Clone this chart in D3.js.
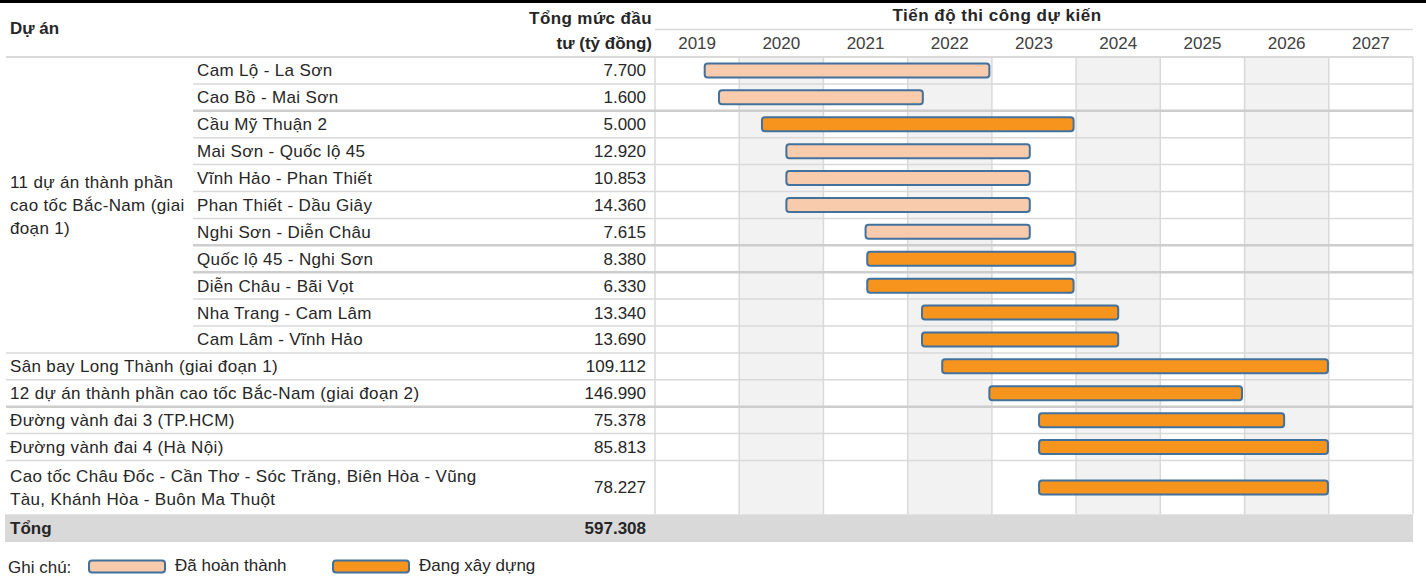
<!DOCTYPE html>
<html lang="vi">
<head>
<meta charset="utf-8">
<script src="https://cdn.jsdelivr.net/npm/d3@7"></script>
<style>
  html, body { margin: 0; padding: 0; background: #fff; }
  svg { display: block; font-family: "Liberation Sans", Arial, sans-serif; }
</style>
</head>
<body>
<svg id="chart" width="1426" height="580"></svg>
<script>
// ---- Data -------------------------------------------------------------
const groupLabel = ["11 dự án thành phần", "cao tốc Bắc-Nam (giai", "đoạn 1)"];

const projects = [
  "Cam Lộ - La Sơn",
  "Cao Bồ - Mai Sơn",
  "Cầu Mỹ Thuận 2",
  "Mai Sơn - Quốc lộ 45",
  "Vĩnh Hảo - Phan Thiết",
  "Phan Thiết - Dầu Giây",
  "Nghi Sơn - Diễn Châu",
  "Quốc lộ 45 - Nghi Sơn",
  "Diễn Châu - Bãi Vọt",
  "Nha Trang - Cam Lâm",
  "Cam Lâm - Vĩnh Hảo",
  "Sân bay Long Thành (giai đoạn 1)",
  "12 dự án thành phần cao tốc Bắc-Nam (giai đoạn 2)",
  "Đường vành đai 3 (TP.HCM)",
  "Đường vành đai 4 (Hà Nội)",
  "Cao tốc Châu Đốc - Cần Thơ - Sóc Trăng, Biên Hòa - Vũng\nTàu, Khánh Hòa - Buôn Ma Thuột"
];

// true = belongs to the 11-project group (phase 1)
const inGroup = [true, true, true, true, true, true, true, true, true, true, true,
                 false, false, false, false, false];

// Total investment, billion VND
const investment = [7700, 1600, 5000, 12920, 10853, 14360, 7615, 8380, 6330, 13340, 13690,
                    109112, 146990, 75378, 85813, 78227];

// Construction schedule, in decimal years
const startYear = [2019.59, 2019.76, 2020.27, 2020.56, 2020.56, 2020.56, 2021.50, 2021.52, 2021.52,
                   2022.17, 2022.17, 2022.41, 2022.97, 2023.56, 2023.56, 2023.56];
const endYear   = [2022.97, 2022.18, 2023.97, 2023.45, 2023.45, 2023.45, 2023.45, 2023.99, 2023.97,
                   2024.50, 2024.50, 2026.99, 2025.97, 2026.47, 2026.99, 2026.99];

// "done" = completed, "building" = under construction
const status = ["done", "done", "building", "done", "done", "done", "done", "building", "building",
                "building", "building", "building", "building", "building", "building", "building"];

const years = [2019, 2020, 2021, 2022, 2023, 2024, 2025, 2026, 2027];

const legendLabels = { done: "Đã hoàn thành", building: "Đang xây dựng" };

// ---- Layout -----------------------------------------------------------
const W = 1426, H = 580;
const tableLeft = 6, tableRight = 1413;
const ganttLeft = 655;
const headerBottom = 57, rowUnit = 26.9;
const FONT = 17;
const textColor = "#262626";
const gridColor = "#D9D9D9";
const fills = { done: "#F8CBAD", building: "#F7941D" };
const barStroke = "#41719C";
const heavierRules = new Set([1, 6, 7, 12]);

const fmt = d3.formatLocale({ decimal: ",", thousands: ".", grouping: [3], currency: ["", ""] }).format(",d");

const rows = projects.map((name, i) => ({
  name, lines: name.split("\n"), group: inGroup[i], value: investment[i],
  start: startYear[i], end: endYear[i], status: status[i]
}));
let acc = 0;
rows.forEach(r => { r.u0 = acc; r.span = r.lines.length; acc += r.span; r.u1 = acc; });
const totalUnits = acc + 1;

const y = d3.scaleLinear().domain([0, totalUnits]).range([headerBottom, headerBottom + totalUnits * rowUnit]);
const x = d3.scaleLinear().domain([years[0], years[years.length - 1] + 1]).range([ganttLeft, tableRight]);
const bodyBottom = y(acc);

const svg = d3.select("#chart");

// top border strip
svg.append("rect").attr("x", 0).attr("y", 0).attr("width", W).attr("height", 3).attr("fill", "#000");

// shaded year columns
svg.append("g").selectAll("rect").data(years.filter((d, i) => i % 2 === 1)).join("rect")
  .attr("x", d => x(d)).attr("width", d => x(d + 1) - x(d))
  .attr("y", headerBottom).attr("height", bodyBottom - headerBottom)
  .attr("fill", "#F2F2F2");

// vertical grid lines
svg.append("g").selectAll("line").data(d3.range(years[0], years[years.length - 1] + 2)).join("line")
  .attr("x1", d => x(d)).attr("x2", d => x(d))
  .attr("y1", headerBottom).attr("y2", bodyBottom)
  .attr("stroke", gridColor).attr("stroke-width", 1.5);

// header rules
svg.append("line").attr("x1", ganttLeft).attr("x2", tableRight).attr("y1", 29.5).attr("y2", 29.5)
  .attr("stroke", gridColor).attr("stroke-width", 1.5);
svg.append("line").attr("x1", tableLeft).attr("x2", tableRight).attr("y1", headerBottom).attr("y2", headerBottom)
  .attr("stroke", gridColor).attr("stroke-width", 2);

// row rules
svg.append("g").selectAll("line").data(rows.slice(0, -1)).join("line")
  .attr("x1", (d, i) => rows[i + 1].group ? 193 : tableLeft)
  .attr("x2", tableRight)
  .attr("y1", d => y(d.u1)).attr("y2", d => y(d.u1))
  .attr("stroke", (d, i) => heavierRules.has(i) ? "#CDCDCD" : gridColor)
  .attr("stroke-width", (d, i) => heavierRules.has(i) ? 2.5 : 1.5);

// total band
svg.append("rect").attr("x", 5).attr("y", bodyBottom).attr("width", tableRight - 5)
  .attr("height", rowUnit).attr("fill", "#D9D9D9");
svg.append("line").attr("x1", 5).attr("x2", tableRight).attr("y1", bodyBottom + rowUnit).attr("y2", bodyBottom + rowUnit)
  .attr("stroke", "#C8C8C8").attr("stroke-width", 1);

// header text
const header = svg.append("g").attr("fill", textColor).attr("font-size", FONT).attr("font-weight", "bold");
header.append("text").attr("x", 10).attr("y", 28).attr("dy", "0.35em").text("Dự án");
header.append("text").attr("x", 652).attr("y", 18).attr("dy", "0.35em").attr("text-anchor", "end")
  .attr("letter-spacing", 0.4).text("Tổng mức đầu");
header.append("text").attr("x", 652).attr("y", 43).attr("dy", "0.35em").attr("text-anchor", "end").text("tư (tỷ đồng)");
header.append("text").attr("x", 997).attr("y", 15).attr("dy", "0.35em").attr("text-anchor", "middle")
  .attr("letter-spacing", 0.5).text("Tiến độ thi công dự kiến");

// year axis labels
svg.append("g").selectAll("text").data(years).join("text")
  .attr("x", d => (x(d) + x(d + 1)) / 2).attr("y", 43).attr("dy", "0.35em")
  .attr("text-anchor", "middle").attr("font-size", FONT).attr("fill", "#404040")
  .text(d => d);

// group label
const groupRows = rows.filter(r => r.group);
const gMid = (y(groupRows[0].u0) + y(groupRows[groupRows.length - 1].u1)) / 2;
svg.append("g").attr("letter-spacing", 0.35).selectAll("text").data(groupLabel).join("text")
  .attr("x", 10).attr("y", (d, i) => gMid + (i - (groupLabel.length - 1) / 2) * 23).attr("dy", "0.35em")
  .attr("font-size", FONT).attr("fill", textColor).text(d => d);

// project names
const nameG = svg.append("g").attr("font-size", FONT).attr("fill", textColor).attr("letter-spacing", 0.35);
rows.forEach(r => {
  const mid = (y(r.u0) + y(r.u1)) / 2;
  r.lines.forEach((ln, k) => {
    nameG.append("text")
      .attr("x", r.group ? 197 : 10)
      .attr("y", mid + (k - (r.lines.length - 1) / 2) * 23).attr("dy", "0.35em")
      .text(ln);
  });
});

// investment values
svg.append("g").selectAll("text").data(rows).join("text")
  .attr("x", 646).attr("y", d => (y(d.u0) + y(d.u1)) / 2).attr("dy", "0.35em")
  .attr("text-anchor", "end").attr("font-size", FONT).attr("fill", textColor)
  .text(d => fmt(d.value));

// total row
const totalMid = bodyBottom + rowUnit / 2;
svg.append("text").attr("x", 10).attr("y", totalMid).attr("dy", "0.35em")
  .attr("font-size", FONT).attr("font-weight", "bold").attr("fill", textColor).text("Tổng");
svg.append("text").attr("x", 646).attr("y", totalMid).attr("dy", "0.35em").attr("text-anchor", "end")
  .attr("font-size", FONT).attr("font-weight", "bold").attr("fill", textColor)
  .text(fmt(d3.sum(investment)));

// Gantt bars
const barH = 14;
svg.append("g").selectAll("rect").data(rows).join("rect")
  .attr("x", d => x(d.start)).attr("width", d => x(d.end) - x(d.start))
  .attr("y", d => (y(d.u0) + y(d.u1)) / 2 - barH / 2).attr("height", barH)
  .attr("rx", 3).attr("ry", 3)
  .attr("fill", d => fills[d.status]).attr("stroke", barStroke).attr("stroke-width", 2);

// legend
const legY = 567;
const legend = svg.append("g").attr("font-size", FONT).attr("fill", textColor);
legend.append("text").attr("x", 8).attr("y", legY).attr("dy", "0.35em").text("Ghi chú:");
const legItems = [{ key: "done", x: 89 }, { key: "building", x: 333 }];
legItems.forEach(it => {
  legend.append("rect").attr("x", it.x).attr("y", legY - 6.5).attr("width", 76).attr("height", 12)
    .attr("rx", 3).attr("ry", 3).attr("fill", fills[it.key]).attr("stroke", barStroke).attr("stroke-width", 2);
  legend.append("text").attr("x", it.x + 86).attr("y", legY - 2).attr("dy", "0.35em").text(legendLabels[it.key]);
});
</script>
</body>
</html>
